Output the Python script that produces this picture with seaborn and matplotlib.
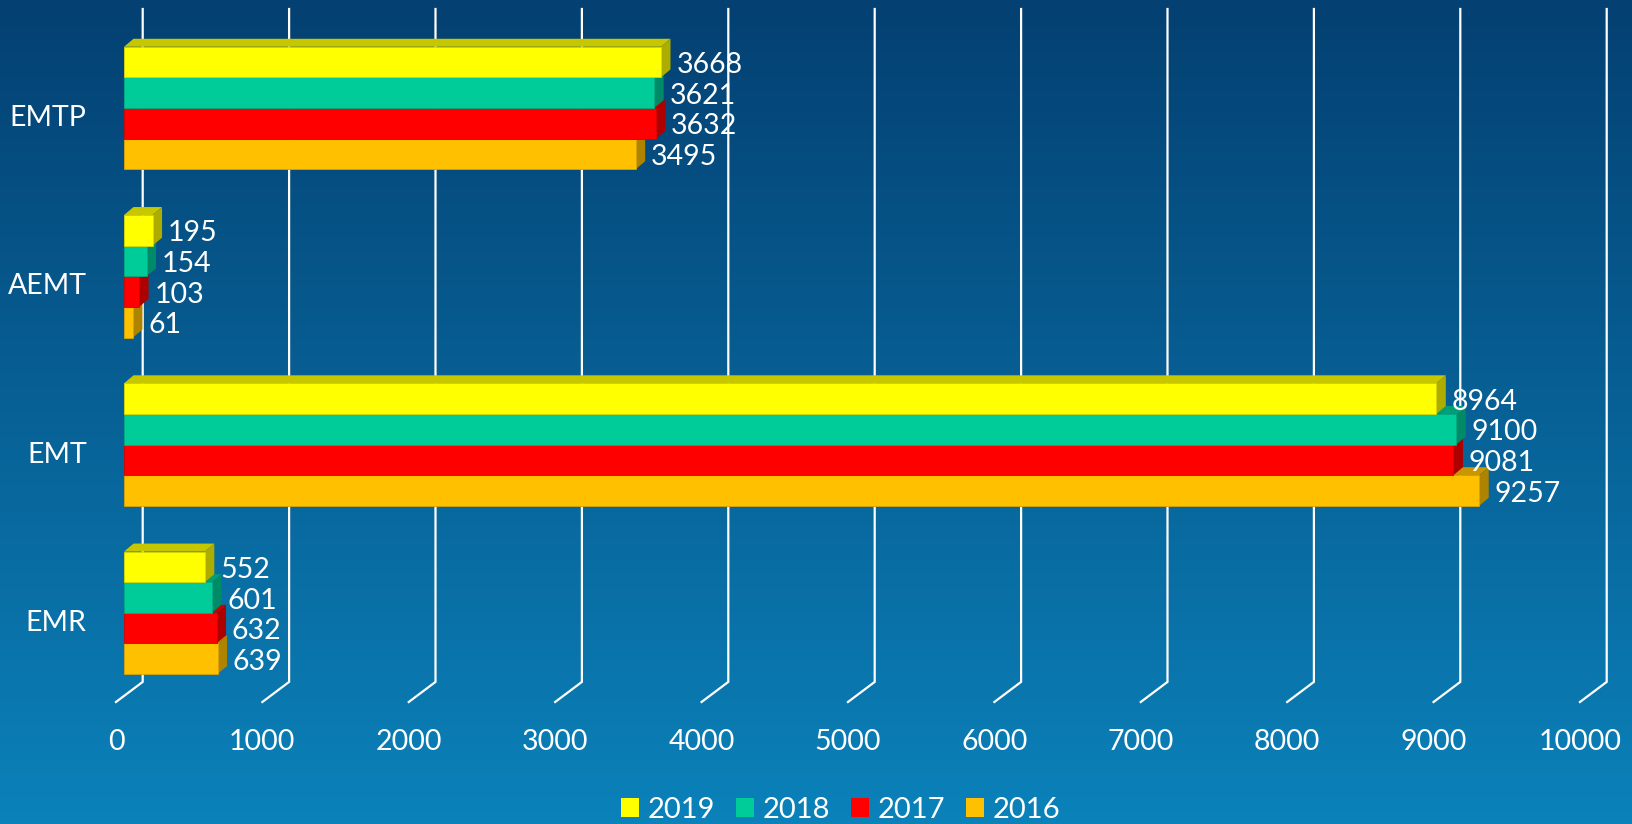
import numpy as np
import pandas as pd
import matplotlib
matplotlib.use("Agg")
import matplotlib.pyplot as plt
import seaborn as sns
from matplotlib.patches import Polygon, Patch
from matplotlib.colors import to_rgb

# ---------------- data ----------------
categories = ["EMTP", "AEMT", "EMT", "EMR"]
years = ["2019", "2018", "2017", "2016"]
v2019 = [3668, 195, 8964, 552]
v2018 = [3621, 154, 9100, 601]
v2017 = [3632, 103, 9081, 632]
v2016 = [3495, 61, 9257, 639]
x_ticks = [0, 1000, 2000, 3000, 4000, 5000, 6000, 7000, 8000, 9000, 10000]

colors = {"2019": "#FFFF00", "2018": "#00CC99", "2017": "#FF0000", "2016": "#FFC000"}

series = {"2019": v2019, "2018": v2018, "2017": v2017, "2016": v2016}
rows = []
for y in years:
    for c, v in zip(categories, series[y]):
        rows.append({"category": c, "year": y, "value": v})
df = pd.DataFrame(rows)

plt.rcParams["font.family"] = ["Lato", "DejaVu Sans"]
FS = 20.5

W, H = 1633, 824
fig = plt.figure(figsize=(W / 100, H / 100), dpi=100)

# background gradient
bg = fig.add_axes([0, 0, 1, 1])
bg.axis("off")
top = np.array([4, 64, 114]) / 255
bot = np.array([11, 130, 186]) / 255
t = np.linspace(0, 1, 256)[:, None]
grad = (top * (1 - t) + bot * t).reshape(256, 1, 3)
bg.imshow(grad, aspect="auto", extent=[0, 1, 0, 1])

# main axes (front plane)
x0px, x1px = 124, 1588
ax = fig.add_axes([x0px / W, (H - 702) / H, (x1px - x0px) / W, 702 / H])
ax.patch.set_alpha(0)

sns.barplot(data=df, x="value", y="category", hue="year", hue_order=years,
            order=categories, palette=colors, orient="h", width=0.728, gap=0,
            saturation=1, legend=False, ax=ax)

ax.set_xlim(0, 10000)
ax.set_ylim(3.53, -0.642)
ax.axis("off")

px_per_x = (x1px - x0px) / 10000.0
px_per_y = 168.3
DX = 9.5 / px_per_x
DY = 8.0 / px_per_y
GDX = 18.7 / px_per_x

def shade(c, f):
    r, g, b = to_rgb(c)
    return (r * f, g * f, b * f)

n = len(years)
for i, cont in enumerate(ax.containers):
    yr = years[i]
    base = colors[yr]
    z = 10 + (n - i) * 4
    for rect, val in zip(cont.patches, series[yr]):
        xa = rect.get_x()
        xb = xa + rect.get_width()
        ya = rect.get_y()
        h = rect.get_height()
        rect.set_zorder(z + 2)
        rect.set_edgecolor(shade(base, 0.85))
        rect.set_linewidth(0.6)
        topface = Polygon([(xa, ya), (xb, ya), (xb + DX, ya - DY), (xa + DX, ya - DY)],
                          closed=True, facecolor=shade(base, 0.78),
                          edgecolor="none", zorder=z + 1)
        side = Polygon([(xb, ya), (xb, ya + h), (xb + DX, ya + h - DY), (xb + DX, ya - DY)],
                       closed=True, facecolor=shade(base, 0.68),
                       edgecolor="none", zorder=z + 1)
        ax.add_patch(topface)
        ax.add_patch(side)
        ax.text(xb + 105, ya + h / 2 + 0.018, f"{val}", ha="left", va="center",
                color="white", fontsize=FS, zorder=60, clip_on=False)

# grid lines on back wall + floor diagonals
y_top = -0.642 + 9 / px_per_y
y_back = (682 - 108) / px_per_y
y_front = 3.53
for v in x_ticks:
    ax.plot([v + GDX, v + GDX, v - 55], [y_top, y_back, y_front],
            color="white", lw=1.6, zorder=1, clip_on=False,
            solid_joinstyle="miter")
    ax.text(v - 55, 3.77, str(v), ha="center", va="center",
            color="white", fontsize=FS, clip_on=False)

for i, c in enumerate(categories):
    ax.text(-255, i + 0.06, c, ha="right", va="center", color="white",
            fontsize=FS, clip_on=False)

handles = [Patch(facecolor=colors[y], edgecolor="none") for y in years]
fig.legend(handles=handles, labels=years, ncol=4, loc="center",
           bbox_to_anchor=(0.515, 0.017), frameon=False, fontsize=21,
           labelcolor="white", handlelength=0.6, handleheight=0.6,
           handletextpad=0.31, columnspacing=0.72)

fig.savefig("out.png", dpi=100)
